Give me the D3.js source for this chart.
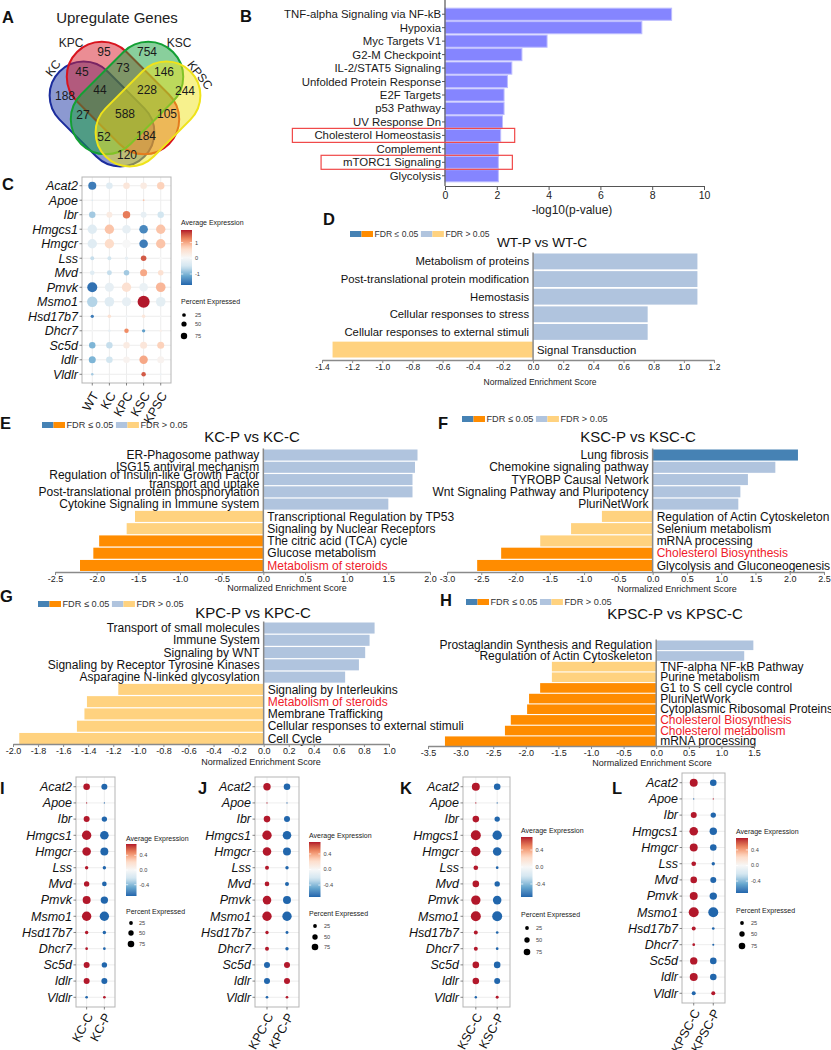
<!DOCTYPE html>
<html><head><meta charset="utf-8">
<script src="https://cdn.jsdelivr.net/npm/d3@7"></script>
<style>
body{margin:0;background:#fff;}
svg{display:block;font-family:"Liberation Sans",Arial,Helvetica,sans-serif;}
</style></head><body>
<svg id="fig" width="831" height="1050"></svg>
<script>
// ================= DATA =================
// Panel A – Venn
const vennSets = ["KC","KPC","KSC","KPSC"];
const vennRegions = ["KC","KPC","KSC","KPSC","KC&KPC","KPC&KSC","KSC&KPSC","KC&KPC&KSC","KPC&KSC&KPSC","KC&KSC","KC&KPC&KSC&KPSC","KPC&KPSC","KC&KSC&KPSC","KC&KPC&KPSC","KC&KPSC"];
const vennCounts  = [188,95,754,244,45,73,146,44,228,27,588,105,52,184,120];

// Panel B – hallmark enrichment
const bTerms  = ["TNF-alpha Signaling via NF-kB","Hypoxia","Myc Targets V1","G2-M Checkpoint","IL-2/STAT5 Signaling","Unfolded Protein Response","E2F Targets","p53 Pathway","UV Response Dn","Cholesterol Homeostasis","Complement","mTORC1 Signaling","Glycolysis"];
const bValues = [8.75,7.6,3.94,2.97,2.58,2.41,2.28,2.28,2.22,2.15,2.06,2.06,2.06];
const bBoxed  = ["Cholesterol Homeostasis","mTORC1 Signaling"];
const bTicks  = [0,2,4,6,8,10];

// Panel C – dot plot
const cGenes  = ["Acat2","Apoe","Ibr","Hmgcs1","Hmgcr","Lss","Mvd","Pmvk","Msmo1","Hsd17b7","Dhcr7","Sc5d","Idlr","Vldlr"];
const cGroups = ["WT","KC","KPC","KSC","KPSC"];
const cAvg = [
  [-1.5,-0.3,0.4,0.3,0.7],
  [-0.4,0,0.05,0.8,0],
  [-0.8,0.3,1.3,-0.2,-0.5],
  [-0.3,0.8,-0.2,-1.4,0.8],
  [-0.3,0.6,0.05,-1.5,0.8],
  [-0.6,-0.5,-0.2,1.5,0.05],
  [-0.3,-0.6,-0.8,1.0,0.5],
  [-1.6,-0.2,0.5,-0.15,0.9],
  [-0.7,-0.3,-0.2,1.8,-0.25],
  [-1.5,0.5,-0.05,0.4,0],
  [0,-0.2,1.2,-1.2,0.2],
  [-1.0,-0.6,0.3,0.4,0.7],
  [-1.0,-0.5,0.15,1.0,0.15],
  [-0.8,0,0,1.5,-0.1]
];
const cPct = [
  [42,28,28,28,36],
  [1.3,0.2,0.2,2,0.2],
  [27,23,36,23,27],
  [57,57,48,48,57],
  [57,57,48,48,57],
  [10,10,8,20,6],
  [14,16,20,32,20],
  [65,53,57,48,60],
  [70,60,53,94,60],
  [7,8,4,8,2],
  [2,4,13,7,4],
  [27,27,27,32,32],
  [32,28,28,46,32],
  [4,0.2,0.2,13,3]
];
const cColorTicks = [-1,0,1];
const pctLegendValues = [25,50,75];

// Panels D–H – GSEA
const dTerms = ["Metabolism of proteins","Post-translational protein modification","Hemostasis","Cellular responses to stress","Cellular responses to external stimuli","Signal Transduction"];
const dNES   = [1.09,1.09,1.09,0.76,0.76,-1.33];
const dSig   = [0,0,0,0,0,0];
const dRed   = [0,0,0,0,0,0];
const dTicks = [-1.4,-1.2,-1.0,-0.8,-0.6,-0.4,-0.2,0.0,0.2,0.4,0.6,0.8,1.0,1.2];

const eTerms = ["ER-Phagosome pathway","ISG15 antiviral mechanism","Regulation of Insulin-like Growth Factor\ntransport and uptake","Post-translational protein phosphorylation","Cytokine Signaling in Immune system","Transcriptional Regulation by TP53","Signaling by Nuclear Receptors","The citric acid (TCA) cycle","Glucose metabolism","Metabolism of steroids"];
const eNES   = [1.85,1.82,1.79,1.79,1.5,-1.54,-1.64,-1.97,-2.04,-2.2];
const eSig   = [0,0,0,0,0,0,0,1,1,1];
const eRed   = [0,0,0,0,0,0,0,0,0,1];
const eTicks = [-2.5,-2.0,-1.5,-1.0,-0.5,0.0,0.5,1.0,1.5,2.0];

const fTerms = ["Lung fibrosis","Chemokine signaling pathway","TYROBP Causal Network","Wnt Signaling Pathway and Pluripotency","PluriNetWork","Regulation of Actin Cytoskeleton","Selenium metabolism","mRNA processing","Cholesterol Biosynthesis","Glycolysis and Gluconeogenesis"];
const fNES   = [2.12,1.79,1.39,1.28,1.25,-0.74,-1.19,-1.64,-2.21,-2.56];
const fSig   = [1,0,0,0,0,0,0,0,1,1];
const fRed   = [0,0,0,0,0,0,0,0,1,0];
const fTicks = [-3.0,-2.5,-2.0,-1.5,-1.0,-0.5,0.0,0.5,1.0,1.5,2.0,2.5];

const gTerms = ["Transport of small molecules","Immune System","Signaling by WNT","Signaling by Receptor Tyrosine Kinases","Asparagine N-linked glycosylation","Signaling by Interleukins","Metabolism of steroids","Membrane Trafficking","Cellular responses to external stimuli","Cell Cycle"];
const gNES   = [0.885,0.845,0.81,0.76,0.65,-1.16,-1.41,-1.43,-1.49,-1.95];
const gSig   = [0,0,0,0,0,0,0,0,0,0];
const gRed   = [0,0,0,0,0,0,1,0,0,0];
const gTicks = [-2.0,-1.8,-1.6,-1.4,-1.2,-1.0,-0.8,-0.6,-0.4,-0.2,0.0,0.2,0.4,0.6,0.8,1.0];

const hTerms = ["Prostaglandin Synthesis and Regulation","Regulation of Actin Cytoskeleton","TNF-alpha NF-kB Pathway","Purine metabolism","G1 to S cell cycle control","PluriNetWork","Cytoplasmic Ribosomal Proteins","Cholesterol Biosynthesis","Cholesterol metabolism","mRNA processing"];
const hNES   = [1.49,1.35,-1.6,-1.6,-1.78,-1.95,-1.98,-2.23,-2.32,-3.24];
const hSig   = [0,0,0,0,1,1,1,1,1,1];
const hRed   = [0,0,0,0,0,0,0,1,1,0];
const hTicks = [-3.5,-3.0,-2.5,-2.0,-1.5,-1.0,-0.5,0.0,0.5,1.0,1.5];

// Panels I–L – two-group dot plots (same gene list as C)
const pairTicks = [-0.4,0.0,0.4];
const iGroups = ["KC-C","KC-P"];
const iAvg = [[0.71,-0.71],[0.71,-0.71],[0.71,-0.71],[0.71,-0.71],[0.71,-0.71],[0.71,-0.71],[0.71,-0.71],[0.71,-0.71],[0.71,-0.71],[0.71,-0.71],[0.71,-0.71],[0.71,-0.71],[0.71,-0.71],[-0.71,0.71]];
const iPct = [[30,25],[1,1],[25,20],[61,51],[51,44],[8,8],[20,15],[44,38],[61,61],[8,8],[5,5],[25,20],[25,25],[5,5]];
const jGroups = ["KPC-C","KPC-P"];
const jAvg = [[0.71,-0.71],[0.71,-0.71],[0.71,-0.71],[0.71,-0.71],[0.71,-0.71],[0.71,-0.71],[0.71,-0.71],[0.71,-0.71],[0.71,-0.71],[0.71,-0.71],[0.71,-0.71],[-0.71,0.71],[-0.71,0.71],[-0.71,0.71]];
const jPct = [[38,30],[1,1],[30,25],[61,51],[51,44],[11,8],[15,11],[51,44],[61,61],[8,6],[11,8],[25,25],[25,25],[5,5]];
const kGroups = ["KSC-C","KSC-P"];
const kAvg = [[0.71,-0.71],[0.71,-0.71],[0.71,-0.71],[0.71,-0.71],[0.71,-0.71],[0.71,-0.71],[0.71,-0.71],[0.71,-0.71],[0.71,-0.71],[0.71,-0.71],[0.71,-0.71],[0.71,-0.71],[0.71,-0.71],[-0.71,0.71]];
const kPct = [[44,30],[1,1],[30,20],[69,61],[61,51],[15,5],[30,20],[61,51],[69,69],[11,5],[11,5],[30,30],[30,25],[4,6]];
const lGroups = ["KPSC-C","KPSC-P"];
const lAvg = [[0.71,-0.71],[-0.71,0.71],[0.71,-0.71],[0.71,-0.71],[0.71,-0.71],[0.71,-0.71],[0.71,-0.71],[0.71,-0.71],[0.71,-0.71],[0.71,-0.71],[0.71,-0.71],[0.71,-0.71],[0.71,-0.71],[-0.71,0.71]];
const lPct = [[44,30],[1,1],[25,20],[51,38],[44,30],[15,8],[30,25],[44,38],[69,69],[11,5],[5,3],[38,30],[44,30],[11,11]];

// ================= STYLE / LAYOUT =================
const COL = {darkBlue:"#4682b4", darkOrange:"#ff8c00", lightBlue:"#b0c4de", lightOrange:"#ffd27f", red:"#f0202a"};
const RDBU = ["#2166ac","#67a9cf","#d1e5f0","#f7f7f7","#fddbc7","#ef8a62","#b2182b"];
const svg = d3.select("#fig");
svg.append("rect").attr("width",831).attr("height",1050).attr("fill","#fff");

function letter(t,x,y){
  svg.append("text").attr("x",x).attr("y",y).attr("font-size",16.5).attr("font-weight","bold").attr("fill","#111").text(t);
}
[["A",2,23],["B",240,22],["C",2,190],["D",323,225],["E",0,429],["F",438,429],["G",0,602],["H",440,606],["I",0,794],["J",198,794],["K",400,794],["L",612,794]].forEach(d=>letter(...d));

// ---------- Panel A ----------
(function(){
  const g = svg.append("g");
  g.append("text").attr("x",117).attr("y",18).attr("dy","0.35em").attr("text-anchor","middle").attr("font-size",15).attr("fill","#222").text("Upregulate Genes");
  const shapes = {
    KC:  {cx:102,cy:114,len:120,wid:68,rot:45, fill:"#1a33a3",stroke:"#1b2c9c"},
    KPC: {cx:123,cy:98, len:130,wid:70,rot:45, fill:"#d81b2a",stroke:"#d8141e"},
    KSC: {cx:127,cy:98, len:130,wid:70,rot:-45,fill:"#14a03a",stroke:"#13a034"},
    KPSC:{cx:148,cy:114,len:120,wid:68,rot:-45,fill:"#efe41c",stroke:"#efe31a"}
  };
  g.selectAll("rect.set").data(vennSets).join("rect").attr("class","set")
    .attr("transform",s=>`translate(${shapes[s].cx},${shapes[s].cy}) rotate(${shapes[s].rot})`)
    .attr("x",s=>-shapes[s].len/2).attr("y",s=>-shapes[s].wid/2)
    .attr("width",s=>shapes[s].len).attr("height",s=>shapes[s].wid)
    .attr("rx",s=>shapes[s].wid/2)
    .attr("fill",s=>shapes[s].fill).attr("fill-opacity",0.5)
    .attr("stroke",s=>shapes[s].stroke).attr("stroke-width",2);
  const setLabelPos = {KC:[53,68,-52],KPC:[71,43,0],KSC:[179,43,0],KPSC:[200,75,52]};
  g.selectAll("text.setl").data(vennSets).join("text").attr("class","setl")
    .attr("transform",s=>`translate(${setLabelPos[s][0]},${setLabelPos[s][1]}) rotate(${setLabelPos[s][2]})`)
    .attr("text-anchor","middle").attr("dy","0.35em").attr("font-size",12).attr("fill","#222").text(s=>s);
  const regionPos = {"KC":[65,96],"KPC":[104,52],"KSC":[147,52],"KPSC":[185,91],"KC&KPC":[82,72],"KPC&KSC":[123,68],"KSC&KPSC":[164,72],"KC&KPC&KSC":[100,90],"KPC&KSC&KPSC":[147,90],"KC&KSC":[83,115],"KC&KPC&KSC&KPSC":[125,114],"KPC&KPSC":[167,114],"KC&KSC&KPSC":[104,137],"KC&KPC&KPSC":[146,136],"KC&KPSC":[127,155]};
  g.selectAll("text.cnt").data(vennRegions).join("text").attr("class","cnt")
    .attr("x",r=>regionPos[r][0]).attr("y",r=>regionPos[r][1]).attr("dy","0.35em")
    .attr("text-anchor","middle").attr("font-size",12).attr("fill","#1a1a1a")
    .text((r,i)=>vennCounts[i]);
})();

// ---------- Panel B ----------
(function(){
  const g = svg.append("g");
  const x = d3.scaleLinear().domain([0,10]).range([445,704]);
  const y = d3.scaleBand().domain(bTerms).range([7.5,182.5]).paddingInner(0.1).paddingOuter(0.05);
  g.selectAll("rect.bar").data(bTerms).join("rect").attr("class","bar")
    .attr("x",x(0)).attr("y",d=>y(d)).attr("width",(d,i)=>x(bValues[i])-x(0)).attr("height",y.bandwidth())
    .attr("fill","#8585ff").attr("stroke","#bcbcff").attr("stroke-width",1);
  g.append("line").attr("x1",445).attr("x2",445).attr("y1",0).attr("y2",186).attr("stroke","#555").attr("stroke-width",1.2);
  g.selectAll("line.yt").data(bTerms).join("line").attr("class","yt")
    .attr("x1",442).attr("x2",445).attr("y1",d=>y(d)+y.bandwidth()/2).attr("y2",d=>y(d)+y.bandwidth()/2).attr("stroke","#555");
  const labels = g.selectAll("text.lab").data(bTerms).join("text").attr("class","lab")
    .attr("x",441).attr("y",d=>y(d)+y.bandwidth()/2).attr("dy","0.35em").attr("text-anchor","end")
    .attr("font-size",11.4).attr("fill","#1a1a1a").text(d=>d);
  const ax = g.append("g").attr("transform","translate(0,186)")
    .call(d3.axisBottom(x).tickValues(bTicks).tickSize(4).tickSizeOuter(0).tickPadding(2));
  ax.select(".domain").attr("stroke","#555").attr("stroke-width",1.2);
  ax.selectAll(".tick line").attr("stroke","#555");
  ax.selectAll("text").attr("font-size",10.5).attr("fill","#222").attr("font-family","Liberation Sans, Arial, sans-serif");
  g.append("text").attr("x",572).attr("y",210).attr("dy","0.35em").attr("text-anchor","middle").attr("font-size",12).attr("fill","#222").text("-log10(p-value)");
  labels.each(function(d,i){
    if(!bBoxed.includes(d)) return;
    const w = this.getComputedTextLength();
    const yc = y(d)+y.bandwidth()/2;
    g.append("rect").attr("x",441-w-22).attr("y",yc-7).attr("width",(x(bValues[i])+14)-(441-w-22)).attr("height",14)
      .attr("fill","none").attr("stroke","#f04848").attr("stroke-width",1.2);
  });
})();

// ---------- Dot plot helper ----------
function makeColor(lo,hi){
  return d3.scaleLinear().domain(d3.range(7).map(i=>lo+(hi-lo)*i/6)).range(RDBU).interpolate(d3.interpolateLab).clamp(true);
}
let gradId = 0;
function dotplot(o){
  const g = svg.append("g");
  const [bx0,by0,bx1,by1] = o.box;
  const x = d3.scalePoint().domain(o.groups).range([bx0,bx1]).padding(0.6);
  const y = d3.scalePoint().domain(cGenes).range([by0,by1]).padding(0.6);
  const color = makeColor(o.cmin,o.cmax);
  const size = d3.scaleSqrt().domain([0,100]).range([0,o.rmax]);
  const legSize = d3.scaleSqrt().domain([0,100]).range([0,o.legRmax]);
  g.append("rect").attr("x",bx0).attr("y",by0).attr("width",bx1-bx0).attr("height",by1-by0).attr("fill","#fff");
  g.selectAll("line.gh").data(cGenes).join("line").attr("class","gh")
    .attr("x1",bx0).attr("x2",bx1).attr("y1",d=>y(d)).attr("y2",d=>y(d)).attr("stroke","#ebebeb").attr("stroke-width",0.9);
  g.selectAll("line.gv").data(o.groups).join("line").attr("class","gv")
    .attr("y1",by0).attr("y2",by1).attr("x1",d=>x(d)).attr("x2",d=>x(d)).attr("stroke","#ebebeb").attr("stroke-width",0.9);
  g.append("rect").attr("x",bx0).attr("y",by0).attr("width",bx1-bx0).attr("height",by1-by0).attr("fill","none").attr("stroke","#b5b5b5").attr("stroke-width",1);
  const pts = [];
  cGenes.forEach((gn,i)=>o.groups.forEach((gr,j)=>pts.push({gene:gn,group:gr,avg:o.avg[i][j],pct:o.pct[i][j]})));
  g.selectAll("circle.dot").data(pts).join("circle").attr("class","dot")
    .attr("cx",d=>x(d.group)).attr("cy",d=>y(d.gene)).attr("r",d=>size(d.pct)).attr("fill",d=>color(d.avg));
  // axis ticks + labels
  g.selectAll("line.yt").data(cGenes).join("line").attr("class","yt")
    .attr("x1",bx0-2.5).attr("x2",bx0).attr("y1",d=>y(d)).attr("y2",d=>y(d)).attr("stroke","#666").attr("stroke-width",0.8);
  g.selectAll("text.gl").data(cGenes).join("text").attr("class","gl")
    .attr("x",bx0-4).attr("y",d=>y(d)).attr("dy","0.35em").attr("text-anchor","end")
    .attr("font-size",12.5).attr("font-style","italic").attr("fill","#111").text(d=>d);
  g.selectAll("line.xt").data(o.groups).join("line").attr("class","xt")
    .attr("x1",d=>x(d)).attr("x2",d=>x(d)).attr("y1",by1).attr("y2",by1+2.5).attr("stroke","#666").attr("stroke-width",0.8);
  g.selectAll("text.xl").data(o.groups).join("text").attr("class","xl")
    .attr("transform",d=>`translate(${x(d)+o.xlDx},${by1+o.xlDy}) rotate(${o.xlRot})`)
    .attr("dy","0.35em").attr("text-anchor","end").attr("font-size",12.5).attr("fill","#111").text(d=>d);
  // colour legend
  const L = o.leg;
  g.append("text").attr("x",L.x).attr("y",L.titleY).attr("dy","0.35em").attr("font-size",7).attr("fill","#222").text("Average Expression");
  const id = "grad"+(gradId++);
  const grad = svg.append("defs").append("linearGradient").attr("id",id).attr("x1",0).attr("x2",0).attr("y1",1).attr("y2",0);
  d3.range(21).forEach(k=>{
    const v = o.cmin+(o.cmax-o.cmin)*k/20;
    grad.append("stop").attr("offset",k/20).attr("stop-color",color(v));
  });
  g.append("rect").attr("x",L.x).attr("y",L.barTop).attr("width",L.barW).attr("height",L.barBot-L.barTop).attr("fill",`url(#${id})`);
  const cy = d3.scaleLinear().domain([o.cmin,o.cmax]).range([L.barBot,L.barTop]);
  o.ticks.forEach(t=>{
    g.append("line").attr("x1",L.x).attr("x2",L.x+2.2).attr("y1",cy(t)).attr("y2",cy(t)).attr("stroke","#fff").attr("stroke-width",0.7);
    g.append("line").attr("x1",L.x+L.barW-2.2).attr("x2",L.x+L.barW).attr("y1",cy(t)).attr("y2",cy(t)).attr("stroke","#fff").attr("stroke-width",0.7);
    g.append("text").attr("x",L.x+L.barW+3).attr("y",cy(t)).attr("dy","0.35em").attr("font-size",5.6).attr("fill","#444").text(o.fmt(t));
  });
  g.append("text").attr("x",L.x).attr("y",L.pctY).attr("dy","0.35em").attr("font-size",7).attr("fill","#222").text("Percent Expressed");
  pctLegendValues.forEach((p,k)=>{
    g.append("circle").attr("cx",L.dotX).attr("cy",L.dotYs[k]).attr("r",legSize(p)).attr("fill","#000");
    g.append("text").attr("x",L.labX).attr("y",L.dotYs[k]).attr("dy","0.35em").attr("font-size",5.6).attr("fill","#444").text(p);
  });
}
const fmtInt = v=>String(v);
const fmt1 = v=>v.toFixed(1);

dotplot({groups:cGroups,avg:cAvg,pct:cPct,box:[82,177,171,383],cmin:-1.7,cmax:1.8,rmax:6.2,legRmax:3.7,ticks:cColorTicks,fmt:fmtInt,
  xlDx:3,xlDy:10,xlRot:-60,
  leg:{x:181,titleY:223,barW:11,barTop:230,barBot:285,pctY:302,dotX:184,dotYs:[315,324,336],labX:195}});
const pairCommon = {cmin:-0.707,cmax:0.707,rmax:6,legRmax:3.8,ticks:pairTicks,fmt:fmt1,xlDx:3,xlDy:7,xlRot:-62};
dotplot(Object.assign({},pairCommon,{groups:iGroups,avg:iAvg,pct:iPct,box:[76,777,115,1007],
  leg:{x:126,titleY:839,barW:10.5,barTop:844,barBot:896,pctY:912,dotX:131,dotYs:[923,933,944],labX:139}}));
dotplot(Object.assign({},pairCommon,{groups:jGroups,avg:jAvg,pct:jPct,box:[255,777,299,1007],
  leg:{x:309,titleY:836,barW:11.5,barTop:842,barBot:897,pctY:914,dotX:315,dotYs:[926,937,947],labX:324}}));
dotplot(Object.assign({},pairCommon,{groups:kGroups,avg:kAvg,pct:kPct,box:[463,777,510,1007],
  leg:{x:521,titleY:831,barW:11.5,barTop:837,barBot:897,pctY:915,dotX:527,dotYs:[928,940,952],labX:536}}));
dotplot(Object.assign({},pairCommon,{groups:lGroups,avg:lAvg,pct:lPct,box:[682,773,725,1003],
  leg:{x:736,titleY:832,barW:12,barTop:838,barBot:893,pctY:911,dotX:742,dotYs:[923,934,946],labX:751}}));

// ---------- GSEA helper ----------
function fdrLegend(x0,yc,fs){
  const g = svg.append("g");
  const sw = 11.5, sh = 6;
  g.append("rect").attr("x",x0).attr("y",yc-sh/2).attr("width",sw).attr("height",sh).attr("fill",COL.darkBlue);
  g.append("rect").attr("x",x0+sw).attr("y",yc-sh/2).attr("width",sw).attr("height",sh).attr("fill",COL.darkOrange);
  const t1 = g.append("text").attr("x",x0+2*sw+1.5).attr("y",yc).attr("dy","0.35em").attr("font-size",fs).attr("fill","#333").text("FDR ≤ 0.05");
  const x2 = x0+2*sw+1.5+t1.node().getComputedTextLength()+2.5;
  g.append("rect").attr("x",x2).attr("y",yc-sh/2).attr("width",sw).attr("height",sh).attr("fill",COL.lightBlue);
  g.append("rect").attr("x",x2+sw).attr("y",yc-sh/2).attr("width",sw).attr("height",sh).attr("fill",COL.lightOrange);
  g.append("text").attr("x",x2+2*sw+1.5).attr("y",yc).attr("dy","0.35em").attr("font-size",fs).attr("fill","#333").text("FDR > 0.05");
}
function gsea(o){
  const g = svg.append("g");
  const x = d3.scaleLinear().domain(o.domain).range(o.xr);
  const y = d3.scaleBand().domain(o.terms).range(o.yr).paddingInner(0.1);
  const x0 = x(0);
  g.selectAll("rect.bar").data(o.terms).join("rect").attr("class","bar")
    .attr("x",(d,i)=>Math.min(x(o.nes[i]),x0)).attr("width",(d,i)=>Math.abs(x(o.nes[i])-x0))
    .attr("y",d=>y(d)).attr("height",y.bandwidth())
    .attr("fill",(d,i)=>o.nes[i]>=0 ? (o.sig[i]?COL.darkBlue:COL.lightBlue) : (o.sig[i]?COL.darkOrange:COL.lightOrange));
  g.append("line").attr("x1",x0).attr("x2",x0).attr("y1",o.yr[0]-1).attr("y2",o.axisY).attr("stroke","#8a8a8a").attr("stroke-width",1.5);
  o.terms.forEach((t,i)=>{
    const lines = t.split("\n");
    const yc = y(t)+y.bandwidth()/2;
    const pos = o.nes[i]>=0;
    lines.forEach((ln,k)=>{
      g.append("text").attr("x",pos?x0-4:x0+4).attr("y",yc+(k-(lines.length-1)/2)*o.lineH)
        .attr("dy","0.35em").attr("text-anchor",pos?"end":"start")
        .attr("font-size",o.labelSize).attr("fill",o.red[i]?COL.red:"#111").text(ln);
    });
  });
  const ax = g.append("g").attr("transform",`translate(0,${o.axisY})`)
    .call(d3.axisBottom(x).tickValues(o.ticks).tickFormat(v=>v.toFixed(1)).tickSize(3).tickSizeOuter(0).tickPadding(0.5));
  ax.select(".domain").attr("stroke","#8a8a8a").attr("stroke-width",1.5);
  ax.selectAll(".tick line").attr("stroke","#8a8a8a");
  ax.selectAll("text").attr("font-size",o.tickSize).attr("fill","#222").attr("font-family","Liberation Sans, Arial, sans-serif");
  g.append("text").attr("x",o.axTitleX).attr("y",o.axTitleY).attr("dy","0.35em").attr("text-anchor","middle")
    .attr("font-size",o.tickSize).attr("fill","#222").text("Normalized Enrichment Score");
  g.append("text").attr("x",o.titleX).attr("y",o.titleY).attr("dy","0.35em").attr("text-anchor","middle")
    .attr("font-size",o.titleSize).attr("fill","#111").text(o.title);
  fdrLegend(o.legX,o.legY,o.legSize);
}
gsea({title:"WT-P vs WT-C",terms:dTerms,nes:dNES,sig:dSig,red:dRed,ticks:dTicks,domain:[-1.4,1.2],xr:[322,714],yr:[253.5,357.5],axisY:360,
  labelSize:11.3,lineH:10,tickSize:8.5,axTitleX:540,axTitleY:382,titleX:542,titleY:242,titleSize:13.7,legX:350,legY:234,legSize:8.6});
gsea({title:"KC-P vs KC-C",terms:eTerms,nes:eNES,sig:eSig,red:eRed,ticks:eTicks,domain:[-2.5,2.0],xr:[55,430],yr:[449.5,571],axisY:572,
  labelSize:12,lineH:9,tickSize:9,axTitleX:287,axTitleY:588,titleX:252,titleY:437,titleSize:15,legX:42,legY:425,legSize:9.2});
gsea({title:"KSC-P vs KSC-C",terms:fTerms,nes:fNES,sig:fSig,red:fRed,ticks:fTicks,domain:[-3.0,2.5],xr:[447,824],yr:[449.5,571],axisY:572,
  labelSize:12,lineH:9,tickSize:9,axTitleX:677,axTitleY:589,titleX:638,titleY:437,titleSize:15,legX:462,legY:419,legSize:9.2});
gsea({title:"KPC-P vs KPC-C",terms:gTerms,nes:gNES,sig:gSig,red:gRed,ticks:gTicks,domain:[-2.0,1.0],xr:[13,389],yr:[622.5,744],axisY:744,
  labelSize:12,lineH:9,tickSize:9,axTitleX:261,axTitleY:762,titleX:253,titleY:613,titleSize:15,legX:38,legY:604,legSize:9.2});
gsea({title:"KPSC-P vs KPSC-C",terms:hTerms,nes:hNES,sig:hSig,red:hRed,ticks:hTicks,domain:[-3.5,1.5],xr:[428,754],yr:[640.5,746],axisY:746,
  labelSize:12,lineH:9,tickSize:9,axTitleX:652,axTitleY:763,titleX:675,titleY:614,titleSize:15,legX:466,legY:602,legSize:9.2});
</script>
</body></html>
